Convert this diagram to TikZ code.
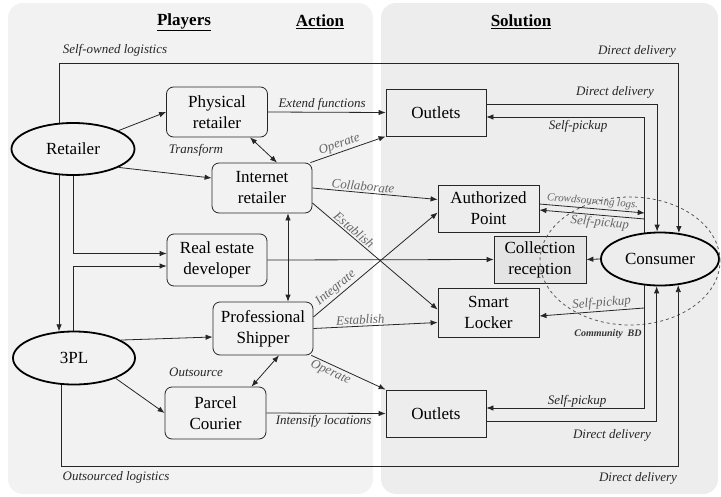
\documentclass[tikz,border=0pt]{standalone}
\usepackage{fontspec}
\setmainfont{Liberation Serif}
\usetikzlibrary{arrows.meta,shapes.geometric,calc}
\definecolor{panelL}{HTML}{F2F2F2}
\definecolor{panelR}{HTML}{EDEDED}
\definecolor{collfill}{HTML}{E4E4E4}
\begin{document}
\begin{tikzpicture}[x=1pt,y=-1pt,
  conn/.style={line width=0.8pt, draw=black!85},
  arr/.style={conn,-{Latex[length=7pt,width=5.5pt]}},
  rarr/.style={conn,{Latex[length=7pt,width=5.5pt]}-},
  darr/.style={conn,{Latex[length=7pt,width=5.5pt]}-{Latex[length=7pt,width=5.5pt]}},
  rbox/.style={draw=black!85, line width=0.8pt, rounded corners=7pt, inner sep=0pt, align=center, font=\fontsize{17}{21}\selectfont},
  sbox/.style={draw=black!85, line width=0.8pt, inner sep=0pt, align=center, font=\fontsize{17}{21}\selectfont},
  ell/.style={ellipse, draw=black, line width=1.8pt, inner sep=0pt, minimum width=123pt, minimum height=52pt, font=\fontsize{17}{21}\selectfont},
  lab/.style={font=\fontsize{13}{15}\selectfont\itshape, text=black!85, inner sep=1.5pt},
  glab/.style={lab, text=black!60},
  slab/.style={glab, font=\fontsize{11}{13}\selectfont\itshape},
  head/.style={font=\fontsize{17}{20}\selectfont\bfseries},
]
\useasboundingbox (0,0) rectangle (721,496);
% panels
\fill[rounded corners=15pt, fill=panelL] (8,3) rectangle (373,494);
\fill[rounded corners=15pt, fill=panelR] (381,3) rectangle (718,494);

% headings
\node[head] (hp) at (184,22) {\underline{Players}};
\node[head] (ha) at (320,22) {\underline{Action}};
\node[head] (hs) at (521,22) {\underline{Solution}};

% nodes
\node[ell] (ret) at (73,149) {Retailer};
\node[ell, minimum width=122pt, minimum height=53pt] (tpl) at (74,358) {3PL};
\node[ell, minimum width=118pt, minimum height=53pt] (con) at (660,259) {Consumer};
\node[rbox, minimum width=101pt, minimum height=50pt] (phy) at (217,112) {Physical\\retailer};
\node[rbox, minimum width=100pt, minimum height=50pt] (int) at (262,188) {Internet\\retailer};
\node[rbox, minimum width=100pt, minimum height=52pt] (rea) at (217,260) {Real estate\\developer};
\node[rbox, minimum width=100pt, minimum height=53pt] (pro) at (263,328.5) {Professional\\Shipper};
\node[rbox, minimum width=101pt, minimum height=52pt] (par) at (215.5,413) {Parcel\\Courier};
\node[sbox, minimum width=100pt, minimum height=47pt] (ou1) at (436,112.5) {Outlets};
\node[sbox, minimum width=101pt, minimum height=47pt] (aut) at (488.5,208.5) {Authorized\\Point};
\node[sbox, fill=collfill, minimum width=92pt, minimum height=47pt] (col) at (540,259.5) {Collection\\reception};
\node[sbox, minimum width=101pt, minimum height=49pt] (sml) at (488.5,312.5) {Smart\\Locker};
\node[sbox, minimum width=100pt, minimum height=47pt] (ou2) at (436,413.5) {Outlets};
\node[ellipse, draw=black!65, dashed, line width=0.8pt, minimum width=180pt, minimum height=128pt] (bd) at (630,261) {};

% helper coordinates
\coordinate (topY) at (0,63);
\coordinate (botY) at (0,466);

% long logistics lines
\draw[arr] (ret.117) |- (topY -| con.54.5) -- (con.54.5);
\draw[arr] (tpl.245.2) |- (botY -| con.305.5) -- (con.305.5);

% left side
\draw[arr] (ret.242.9) -- (ret.242.9 |- tpl.118.5);
\draw[arr] (ret.south) |- ([yshift=6.5pt]rea.west);
\draw[arr] (tpl.92) |- ([yshift=-6pt]rea.west);
\draw[arr] (ret.22) -- (phy.west);
\draw[arr] (ret.338) -- ([yshift=10pt]int.west);
\draw[arr] (tpl.21.4) -- ([yshift=-8.5pt]pro.west);
\draw[arr] (tpl.334) -- (par.west);
\draw[darr] ([xshift=33pt]phy.south) -- ([xshift=15pt]int.north);
\draw[darr] ([xshift=26pt]int.south) -- ([xshift=25pt]pro.north);
\draw[darr] ([xshift=16pt]pro.south) -- ([xshift=36pt]par.north);

% actions
\draw[arr] (phy.east) -- node[lab, above, pos=0.46] (lext) {Extend functions} (ou1.west);
\draw[arr] ([xshift=-2pt]int.north east) -- node[glab, sloped, above, pos=0.42] (lop1) {Operate} (ou1.south west);
\draw[arr] (int.east) -- node[glab, sloped, above, pos=0.4] (lcol) {Collaborate} ([yshift=9pt]aut.west);
\draw[arr] ([yshift=-15pt]int.east) -- node[glab, sloped, above, pos=0.3] (lest1) {Establish} ([yshift=3pt]sml.west);
\draw[arr] ([yshift=11.5pt]pro.east) -- node[glab, sloped, above, pos=0.22] (lint) {Integrate} ([yshift=-4pt]aut.west);
\draw[arr] (pro.east) -- node[glab, sloped, above, pos=0.38] (lest2) {Establish} ([yshift=-10pt]sml.west);
\draw[arr] ([xshift=-2pt]pro.south east) -- node[glab, sloped, below, pos=0.3] (lop2) {Operate} (ou2.north west);
\draw[arr] (par.east) -- node[lab, below, pos=0.48] (lintf) {Intensify locations} (ou2.west);
\draw[arr] (rea.east) -- (col.west);
\draw[arr] (con.west) -- (col.east);

% solution side
\draw[arr] ([yshift=8pt]ou1.east) -| (con.96.5);
\draw[arr] (con.120.4) |- ([yshift=-4.5pt]ou1.east);
\draw[arr] ([yshift=4.5pt]aut.east) -- node[slab, sloped, above, pos=0.5] (lcrowd) {Crowdsourcing logs.} (con.120.4 |- 0,213);
\draw[rarr] ([yshift=-1.5pt]aut.east) -- node[glab, sloped, below, pos=0.58] (lsp2) {Self-pickup} (con.120.4 |- 0,219);
\draw[rarr] ([yshift=-3.5pt]sml.east) -- node[glab, sloped, above, pos=0.6] (lsp3) {Self-pickup} (con.239.6 |- 0,308);
\draw[arr] (con.239.6) |- ([yshift=5.5pt]ou2.east);
\draw[arr] ([yshift=-7.5pt]ou2.east) -| (con.263.5);

% free labels
\node[lab] (lsol) at (115,50) {Self-owned logistics};
\node[lab] (ldd1) at (637,51) {Direct delivery};
\node[lab] (ldd2) at (615,92) {Direct delivery};
\node[lab] (lsp1) at (578,126) {Self-pickup};
\node[lab] (lsp4) at (577,401) {Self-pickup};
\node[lab] (ldd3) at (612,435) {Direct delivery};
\node[lab] (ldd4) at (638,478) {Direct delivery};
\node[lab] (losl) at (116,477) {Outsourced logistics};
\node[lab] (ltr) at (196,150) {Transform};
\node[lab] (los) at (196,372) {Outsource};
\node[font=\fontsize{10}{12}\selectfont\bfseries\itshape, text=black!80, inner sep=1pt] (lcbd) at (608,334) {Community\ \ BD};
\end{tikzpicture}
\end{document}
